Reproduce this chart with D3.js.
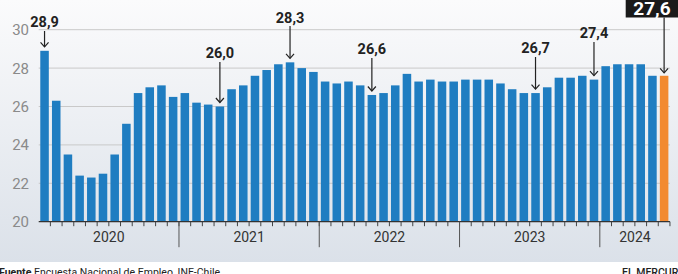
<!DOCTYPE html>
<html>
<head>
<meta charset="utf-8">
<script src="https://cdn.jsdelivr.net/npm/d3@7"></script>
<style>
  html, body { margin: 0; padding: 0; background: #fff; }
  svg { display: block; font-family: Roboto, "Noto Sans", sans-serif; }
</style>
</head>
<body>
<div id="chart"></div>
<script>
// monthly values, jan 2020 - jun 2024
var years = ["2020", "2021", "2022", "2023", "2024"];
var monthsPerYear = [12, 12, 12, 12, 6];
var values = [
  28.9, 26.3, 23.5, 22.4, 22.3, 22.5, 23.5, 25.1, 26.7, 27.0, 27.1, 26.5,
  26.7, 26.2, 26.1, 26.0, 26.9, 27.1, 27.6, 27.9, 28.2, 28.3, 28.0, 27.8,
  27.3, 27.2, 27.3, 27.1, 26.6, 26.7, 27.1, 27.7, 27.3, 27.4, 27.3, 27.3,
  27.4, 27.4, 27.4, 27.2, 26.9, 26.7, 26.7, 27.0, 27.5, 27.5, 27.6, 27.4,
  28.1, 28.2, 28.2, 28.2, 27.6, 27.6
];
var yTicks = [20, 22, 24, 26, 28, 30];

// highlighted months (index into values) and their labels
var noteIndex = [0, 15, 21, 28, 42, 47];
var noteLabel = ["28,9", "26,0", "28,3", "26,6", "26,7", "27,4"];
var lastLabel = "27,6";

var width = 678, height = 274;
var margin = {top: 29.7, left: 38.7, right: 8, bottom: 52.3};
var plotBottom = height - margin.bottom; // 221.7

var svg = d3.select("#chart").append("svg")
  .attr("width", width)
  .attr("height", height);

var defs = svg.append("defs");
var grad = defs.append("linearGradient")
  .attr("id", "bg").attr("x1", 0).attr("y1", 0).attr("x2", 0).attr("y2", 1);
grad.append("stop").attr("offset", "0%").attr("stop-color", "#fbfbfc");
grad.append("stop").attr("offset", "100%").attr("stop-color", "#dbe1e9");

svg.append("rect")
  .attr("x", 0).attr("y", 0)
  .attr("width", width).attr("height", 262)
  .attr("fill", "url(#bg)");

var x = d3.scaleBand()
  .domain(d3.range(values.length))
  .range([margin.left, margin.left + 11.69 * values.length])
  .paddingInner(0.27)
  .paddingOuter(0.135);

var y = d3.scaleLinear()
  .domain([20, 30])
  .range([plotBottom, margin.top]);

var xEnd = margin.left + 11.69 * values.length;

// gridlines
svg.append("g")
  .selectAll("line")
  .data(yTicks.filter(d => d > 20))
  .enter().append("line")
  .attr("x1", margin.left)
  .attr("x2", xEnd)
  .attr("y1", d => y(d))
  .attr("y2", d => y(d))
  .attr("stroke", "#c9c9c9")
  .attr("stroke-width", 1);

// y labels
svg.append("g")
  .selectAll("text")
  .data(yTicks)
  .enter().append("text")
  .attr("x", 29)
  .attr("y", d => y(d))
  .attr("dy", "0.36em")
  .attr("text-anchor", "end")
  .attr("font-size", 15)
  .attr("fill", "#8a8a8a")
  .text(d => d);

// bars
svg.append("g")
  .selectAll("rect")
  .data(values)
  .enter().append("rect")
  .attr("x", (d, i) => x(i))
  .attr("width", x.bandwidth())
  .attr("y", d => y(d))
  .attr("height", d => plotBottom - y(d))
  .attr("fill", (d, i) => i === values.length - 1 ? "#f28a30" : "#1f7dc1");

// x axis
var step = x.step();
svg.append("line")
  .attr("x1", margin.left).attr("x2", xEnd)
  .attr("y1", plotBottom).attr("y2", plotBottom)
  .attr("stroke", "#333").attr("stroke-width", 1.2);

var yearStart = [];
var acc = 0;
monthsPerYear.forEach(function(m) { yearStart.push(acc); acc += m; });

svg.append("g")
  .selectAll("line")
  .data(d3.range(1, values.length + 1))
  .enter().append("line")
  .attr("x1", i => margin.left + i * step)
  .attr("x2", i => margin.left + i * step)
  .attr("y1", plotBottom)
  .attr("y2", plotBottom + 4.5)
  .attr("stroke", "#444")
  .attr("stroke-width", 1);

svg.append("g")
  .selectAll("line")
  .data(yearStart.slice(1))
  .enter().append("line")
  .attr("x1", i => margin.left + i * step)
  .attr("x2", i => margin.left + i * step)
  .attr("y1", plotBottom)
  .attr("y2", plotBottom + 25.5)
  .attr("stroke", "#555")
  .attr("stroke-width", 1);

svg.append("g")
  .selectAll("text")
  .data(years)
  .enter().append("text")
  .attr("x", (d, i) => margin.left + (yearStart[i] + monthsPerYear[i] / 2) * step)
  .attr("y", 242)
  .attr("text-anchor", "middle")
  .attr("font-size", 14)
  .attr("fill", "#333")
  .text(d => d);

// annotations: text baseline and arrow start above the bar
var labelBase = [27, 58, 23, 54, 53, 38];
var arrowTop = [31, 62, 26, 58, 57, 42];

function arrow(g, cx, y1, y2) {
  g.append("line")
    .attr("x1", cx).attr("x2", cx)
    .attr("y1", y1).attr("y2", y2)
    .attr("stroke", "#222").attr("stroke-width", 1.2);
  g.append("path")
    .attr("d", `M${cx - 4},${y2 - 4.5}L${cx},${y2}L${cx + 4},${y2 - 4.5}`)
    .attr("fill", "none")
    .attr("stroke", "#222").attr("stroke-width", 1.2);
}

var notes = svg.append("g");
noteIndex.forEach(function(idx, k) {
  var cx = x(idx) + x.bandwidth() / 2;
  notes.append("text")
    .attr("x", cx)
    .attr("y", labelBase[k])
    .attr("text-anchor", "middle")
    .attr("font-size", 14.5)
    .attr("font-weight", "bold")
    .attr("fill", "#222")
    .text(noteLabel[k]);
  arrow(notes, cx, arrowTop[k], y(values[idx]) - 4);
});

// last value box
var lastI = values.length - 1;
var lcx = x(lastI) + x.bandwidth() / 2;
svg.append("rect")
  .attr("x", 625.7).attr("y", -2)
  .attr("width", 60).attr("height", 19.5)
  .attr("fill", "#1a1a1a");
svg.append("text")
  .attr("x", 652).attr("y", 15)
  .attr("text-anchor", "middle")
  .attr("font-size", 19)
  .attr("font-weight", "bold")
  .attr("fill", "#fff")
  .text(lastLabel);
arrow(svg, lcx, 17.5, y(values[lastI]) - 3);

// footer
var foot = svg.append("text")
  .attr("x", -1).attr("y", 275.5)
  .attr("font-size", 10.5)
  .attr("fill", "#222");
foot.append("tspan").attr("font-weight", "bold").text("Fuente");
foot.append("tspan").text(" Encuesta Nacional de Empleo, INE-Chile.");

svg.append("text")
  .attr("x", 622).attr("y", 275.5)
  .attr("font-size", 10.5)
  .attr("font-weight", "500")
  .attr("fill", "#222")
  .text("EL MERCURIO");
</script>
</body>
</html>
